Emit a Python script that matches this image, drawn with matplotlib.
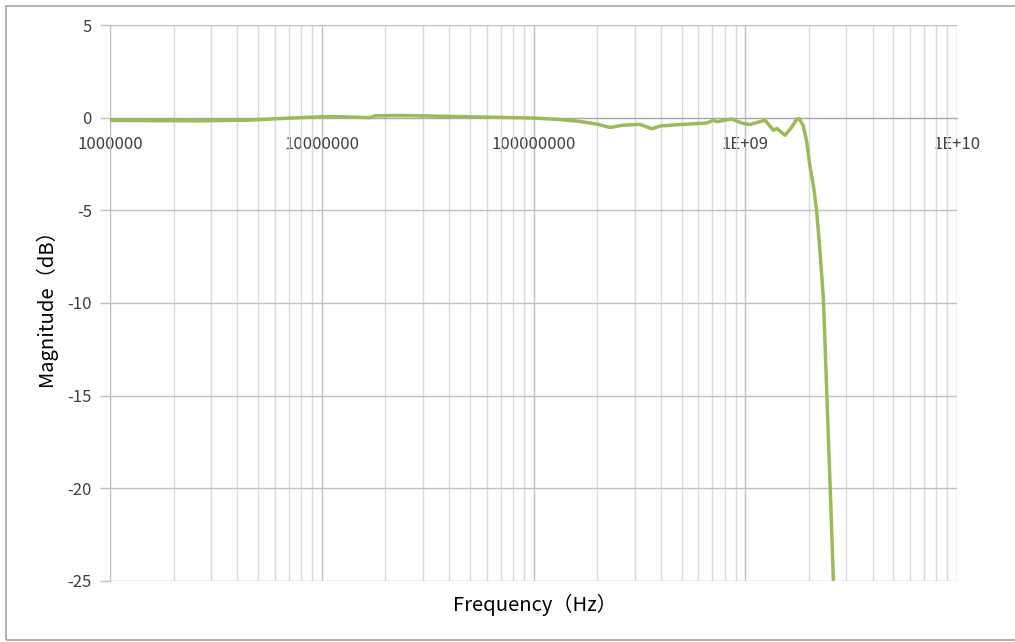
import matplotlib.pyplot as plt
import matplotlib.ticker as ticker
from matplotlib.patches import Rectangle
import numpy as np

plt.rcParams['font.family'] = ['Noto Sans CJK JP', 'DejaVu Sans']
plt.rcParams['axes.unicode_minus'] = False

# frequency response
freq_hz = [1.0e6, 2.66e6, 4.58e6, 6.83e6, 1.0e7, 1.22e7, 1.69e7, 1.78e7, 2.34e7,
           4.84e7, 1.0e8, 1.33e8, 1.65e8, 2.0e8, 2.3e8, 2.6e8, 2.9e8, 3.18e8,
           3.62e8, 3.96e8, 4.92e8, 6.58e8, 7.07e8, 7.33e8, 8.63e8, 9.2e8, 9.8e8,
           1.05e9, 1.11e9, 1.24e9, 1.36e9, 1.41e9, 1.54e9, 1.66e9, 1.75e9, 1.8e9,
           1.88e9, 1.95e9, 2.02e9, 2.1e9, 2.17e9, 2.25e9, 2.34e9, 2.43e9, 2.52e9,
           2.61e9, 2.64e9]
mag_db = [-0.15, -0.17, -0.13, -0.03, 0.05, 0.05, 0.0, 0.1, 0.12,
          0.05, -0.02, -0.1, -0.2, -0.35, -0.53, -0.42, -0.38, -0.36,
          -0.6, -0.45, -0.37, -0.29, -0.14, -0.22, -0.07, -0.2, -0.32,
          -0.37, -0.29, -0.14, -0.68, -0.58, -0.95, -0.5, -0.08, -0.06,
          -0.44, -1.3, -2.6, -3.7, -4.94, -7.1, -9.8, -15.0, -20.05,
          -25.07, -26.5]

xtick_vals = [1e6, 1e7, 1e8, 1e9, 1e10]
xtick_text = ['1000000', '10000000', '100000000', '1E+09', '1E+10']
ytick_vals = [5, 0, -5, -10, -15, -20, -25]

fig = plt.figure(figsize=(10.15, 6.42), dpi=100)
ax = fig.add_axes([110 / 1015, 1 - 581 / 642, 847 / 1015, 556 / 642])

ax.plot(freq_hz, mag_db, color='#9BBB59', linewidth=2.5, solid_capstyle='round',
        solid_joinstyle='round', zorder=3)

ax.set_xscale('log')
ax.set_xlim(1e6, 1e10)
ax.set_ylim(-25, 5)

ax.xaxis.set_major_locator(ticker.FixedLocator(xtick_vals))
ax.xaxis.set_major_formatter(ticker.FixedFormatter(xtick_text))
ax.xaxis.set_minor_locator(ticker.LogLocator(base=10, subs=np.arange(2, 10)))
ax.xaxis.set_minor_formatter(ticker.NullFormatter())
ax.set_yticks(ytick_vals)

ax.grid(which='major', color='#BFBFBF', linewidth=1.0)
ax.grid(which='minor', axis='x', color='#D9D9D9', linewidth=1.0)
ax.set_axisbelow(True)

for side in ['top', 'right']:
    ax.spines[side].set_visible(False)
ax.spines['left'].set_color('#BFBFBF')
ax.spines['bottom'].set_position(('data', 0))
ax.spines['bottom'].set_color('#A6A6A6')

ax.tick_params(axis='x', which='both', length=0, pad=13, labelsize=12, labelcolor='#404040')
ax.tick_params(axis='y', length=7, width=1, color='#BFBFBF', pad=6, labelsize=12, labelcolor='#404040')

ax.set_ylabel('Magnitude（dB）', fontsize=14.5, color='#000000')
ax.yaxis.set_label_coords(-0.063, 0.5)
ax.set_xlabel('Frequency（Hz）', fontsize=14.5, color='#000000')
ax.xaxis.set_label_coords(0.502, -0.023)

# outer chart border
fig.patches.append(Rectangle((6 / 1015, 2 / 642), 1.1, 634 / 642, transform=fig.transFigure,
                             fill=False, edgecolor='#A6A6A6', linewidth=1.2))

fig.savefig('out.png', dpi=100)
